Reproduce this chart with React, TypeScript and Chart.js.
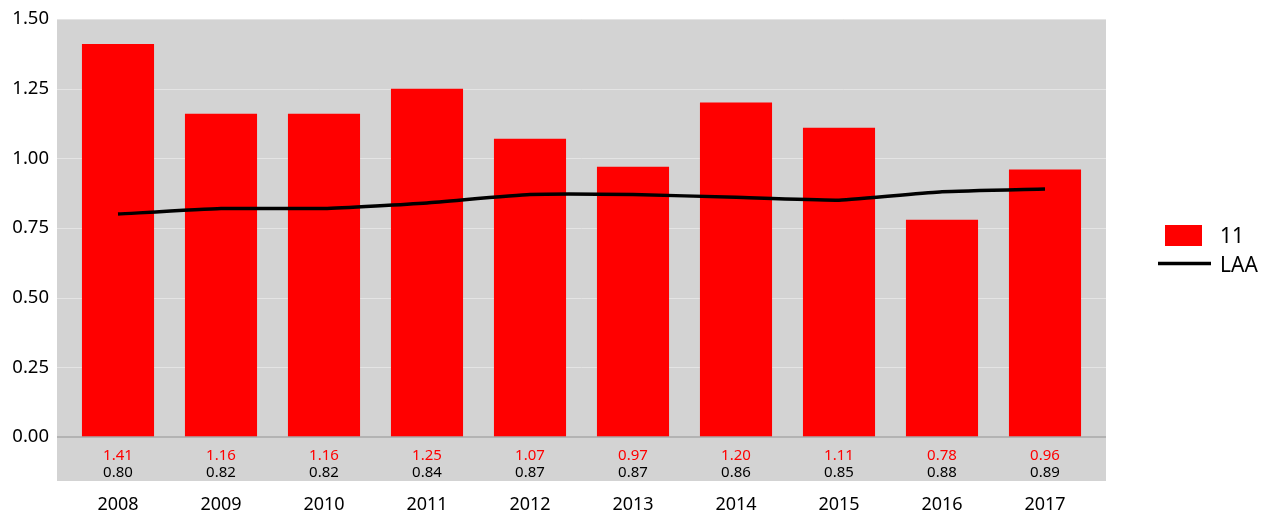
import React, { useEffect, useRef } from "react";
import { Chart, registerables } from "chart.js";

Chart.register(...registerables);

const years = ["2008", "2009", "2010", "2011", "2012", "2013", "2014", "2015", "2016", "2017"];
const seriesValues = [1.41, 1.16, 1.16, 1.25, 1.07, 0.97, 1.2, 1.11, 0.78, 0.96];
const laaValues = [0.8, 0.82, 0.82, 0.84, 0.87, 0.87, 0.86, 0.85, 0.88, 0.89];
const yTicks = [0, 0.25, 0.5, 0.75, 1.0, 1.25, 1.5];
const seriesName = "11";
const laaName = "LAA";

const FONT = "'Noto Sans', 'Open Sans', sans-serif";
const EXT = 9.5; // grey panel extension beyond chart area
const TABLE_H = 44;

const panelPlugin = {
  id: "panel",
  beforeDatasetsDraw(chart: any) {
    const { ctx, chartArea } = chart;
    const y = chart.scales.y;
    const left = chartArea.left - EXT;
    const right = chartArea.right + EXT;
    ctx.save();
    ctx.fillStyle = "#d3d3d3";
    ctx.fillRect(left, chartArea.top, right - left, chartArea.bottom + TABLE_H - chartArea.top);
    ctx.strokeStyle = "#e4e4e4";
    ctx.lineWidth = 1;
    y.ticks.forEach((t: any) => {
      if (t.value === 0) return;
      const py = Math.round(y.getPixelForValue(t.value)) + 0.5;
      ctx.beginPath();
      ctx.moveTo(left, py);
      ctx.lineTo(right, py);
      ctx.stroke();
    });
    ctx.restore();
  },
  afterDatasetsDraw(chart: any) {
    const { ctx, chartArea } = chart;
    const x = chart.scales.x;
    const y = chart.scales.y;
    const left = chartArea.left - EXT;
    const right = chartArea.right + EXT;
    ctx.save();
    const zy = y.getPixelForValue(0);
    ctx.strokeStyle = "#a8a8a8";
    ctx.lineWidth = 1.5;
    ctx.beginPath();
    ctx.moveTo(left, zy);
    ctx.lineTo(right, zy);
    ctx.stroke();

    ctx.font = `15px ${FONT}`;
    ctx.textAlign = "center";
    ctx.textBaseline = "middle";
    years.forEach((_, i) => {
      const px = x.getPixelForValue(i);
      ctx.fillStyle = "#ff0000";
      ctx.fillText(seriesValues[i].toFixed(2), px, zy + 19);
      ctx.fillStyle = "#000000";
      ctx.fillText(laaValues[i].toFixed(2), px, zy + 36);
    });

    // legend
    const lx = 1165;
    ctx.fillStyle = "#ff0000";
    ctx.fillRect(lx, 225, 37, 21);
    ctx.strokeStyle = "#000000";
    ctx.lineWidth = 3.5;
    ctx.beginPath();
    ctx.moveTo(1158, 263.5);
    ctx.lineTo(1211, 263.5);
    ctx.stroke();
    ctx.fillStyle = "#000000";
    ctx.font = `21px ${FONT}`;
    ctx.textAlign = "left";
    ctx.fillText(seriesName, 1220, 237);
    ctx.fillText(laaName, 1220, 266);
    ctx.restore();
  },
};

export default function App() {
  const ref = useRef<HTMLCanvasElement | null>(null);
  useEffect(() => {
    document.body.style.margin = "0";
    const canvas = ref.current;
    if (!canvas) return;
    const chart = new Chart(canvas, {
      type: "bar",
      data: {
        labels: years,
        datasets: [
          {
            type: "line",
            label: laaName,
            data: laaValues,
            borderColor: "#000000",
            backgroundColor: "#000000",
            borderWidth: 3.5,
            pointRadius: 0,
            tension: 0.15,
            order: 0,
          } as any,
          {
            type: "bar",
            label: seriesName,
            data: seriesValues,
            backgroundColor: "#ff0000",
            borderWidth: 0,
            barPercentage: 0.7,
            categoryPercentage: 1,
            order: 1,
          } as any,
        ],
      },
      options: {
        responsive: false,
        animation: false,
        devicePixelRatio: 1,
        layout: { padding: { top: 19, right: 167.5, left: 0, bottom: 0 } },
        plugins: {
          legend: { display: false },
          tooltip: { enabled: false },
        },
        scales: {
          x: {
            grid: { display: false, drawTicks: false },
            border: { display: false },
            ticks: {
              padding: 57,
              color: "#000000",
              font: { family: FONT, size: 18 },
            },
            afterFit(scale: any) {
              scale.height = 75;
              scale.paddingLeft = 0;
              scale.paddingRight = 0;
            },
          },
          y: {
            min: 0,
            max: 1.5,
            afterBuildTicks(scale: any) {
              scale.ticks = yTicks.map((v) => ({ value: v }));
            },
            grid: { display: false, drawTicks: false },
            border: { display: false },
            ticks: {
              padding: 17.5,
              color: "#000000",
              font: { family: FONT, size: 18.5 },
              callback: (v: any) => Number(v).toFixed(2),
            },
            afterFit(scale: any) {
              scale.width = 66.5;
              scale.paddingTop = 0;
              scale.paddingBottom = 0;
            },
          },
        },
      },
      plugins: [panelPlugin],
    });
    return () => chart.destroy();
  }, []);
  return (
    <div style={{ width: 1264, height: 512, background: "#ffffff" }}>
      <canvas ref={ref} width={1264} height={512} style={{ display: "block" }} />
    </div>
  );
}
